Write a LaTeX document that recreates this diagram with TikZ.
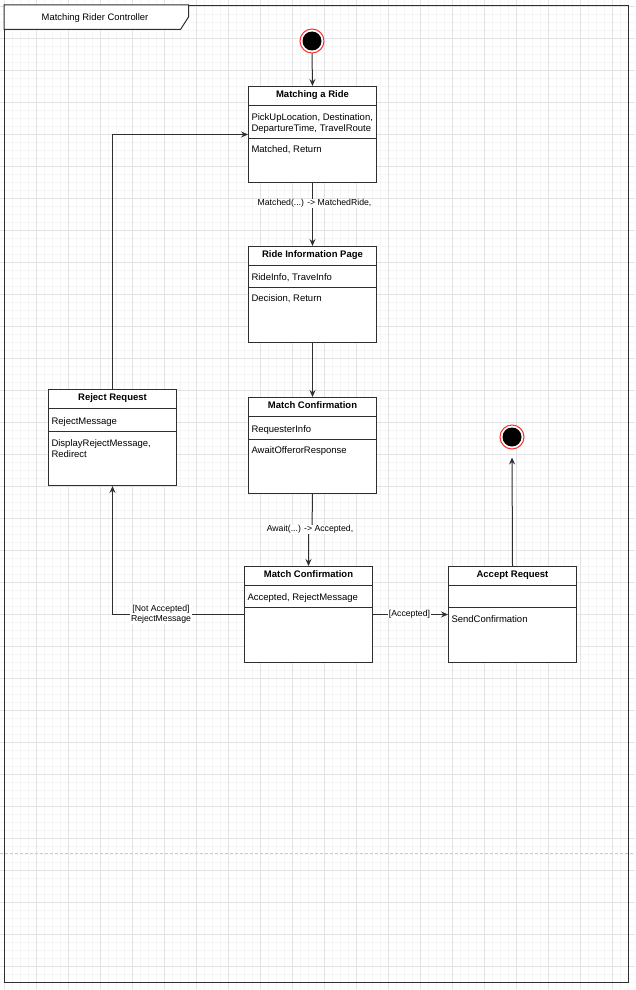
\documentclass[tikz,border=0pt]{standalone}
\usepackage{fontspec}
\setmainfont{Liberation Sans}
\usetikzlibrary{arrows.meta,calc}

\definecolor{gridmajor}{HTML}{E3E3E3}
\definecolor{gridminor}{HTML}{F5F5F5}
\definecolor{ink}{HTML}{2E2E2E}
\definecolor{ringred}{HTML}{FF3030}
\definecolor{dashgray}{HTML}{CCCCCC}

\tikzset{
  statebox/.style={draw=ink, line width=1, fill=white, minimum width=128,
    minimum height=96, inner sep=0, anchor=north west},
  sepline/.style={draw=ink, line width=0.8},
  titletext/.style={font=\fontsize{9.5}{11}\selectfont\bfseries, inner sep=0, anchor=base},
  bodytext/.style={font=\fontsize{9.5}{11}\selectfont, inner sep=0, anchor=base west},
  edgelabel/.style={font=\fontsize{8.7}{10.4}\selectfont, fill=white, inner sep=0.6, align=center},
  wire/.style={draw=ink, line width=1},
  flow/.style={wire, -{Stealth[length=7pt,width=6pt,inset=2.5pt]}},
  ring/.style={circle, draw=ringred, line width=1, fill=white, minimum size=24, inner sep=0},
  dot/.style={circle, fill=black, minimum size=19, inner sep=0},
}

% state box with title compartment, attribute compartment and operation compartment
% #1 name, #2 x, #3 y (top left), #4 title, #5 offset of the second separator
\newcommand\umlstate[5]{%
  \node[statebox] (#1) at (#2,#3) {};
  \draw[sepline] ($(#1.north west)+(0,19.5)$) -- ($(#1.north east)+(0,19.5)$);
  \draw[sepline] ($(#1.north west)+(0,#5)$) -- ($(#1.north east)+(0,#5)$);
  \node[titletext] (#1-title) at ($(#1.north)+(0,11.5)$) {#4};
}

\begin{document}
\begin{tikzpicture}[x=1pt,y=-1pt]
\useasboundingbox (0,0) rectangle (635,990);
\fill[white] (0,0) rectangle (635,990);

% background grid
\foreach \gx in {4.5,12.5,...,636}
  \draw[gridminor, line width=0.5] (\gx,0) -- (\gx,990);
\foreach \gy in {6,14,...,990}
  \draw[gridminor, line width=0.5] (0,\gy) -- (635,\gy);
\foreach \gx in {4.5,36.5,...,636}
  \draw[gridmajor, line width=0.7] (\gx,0) -- (\gx,990);
\foreach \gy in {6,38,...,990}
  \draw[gridmajor, line width=0.7] (0,\gy) -- (635,\gy);

% page break marker
\draw[dashgray, line width=1, dash pattern=on 3pt off 2pt] (0,853.5) -- (635,853.5);

% outer frame with name tab
\node[draw=ink, line width=1, minimum width=624, minimum height=977, inner sep=0,
      anchor=north west] (frame) at (4,5) {};
\draw[ink, line width=1, fill=white] (4,5) -- (188.5,5) -- (188.5,17) -- (180.5,29.5) -- (4,29.5) -- cycle;
\node[font=\fontsize{9.4}{11}\selectfont, inner sep=0, anchor=base] (frametitle) at (95,20.5) {Matching Rider Controller};

% initial state
\node[ring] (init) at (312,41) {};
\node[dot] (initdot) at (init) {};

% states
\umlstate{match}{248}{86}{Matching a Ride}{52}
\node[bodytext] (match-a1) at ($(match.north west)+(3.3,34.8)$) {PickUpLocation, Destination,};
\node[bodytext] (match-a2) at ($(match.north west)+(3.3,45.8)$) {DepartureTime, TravelRoute};
\node[bodytext] (match-o1) at ($(match.north west)+(3.3,66.5)$) {Matched, Return};

\umlstate{info}{248}{246}{Ride Information Page}{41.5}
\node[bodytext] (info-a1) at ($(info.north west)+(3.3,34.8)$) {RideInfo, TraveInfo};
\node[bodytext] (info-o1) at ($(info.north west)+(3.3,55.8)$) {Decision, Return};

\umlstate{confirm}{248}{397}{Match Confirmation}{42}
\node[bodytext] (confirm-a1) at ($(confirm.north west)+(3.3,35.3)$) {RequesterInfo};
\node[bodytext] (confirm-o1) at ($(confirm.north west)+(3.3,56.5)$) {AwaitOfferorResponse};

\umlstate{reject}{48}{389}{Reject Request}{42}
\node[bodytext] (reject-a1) at ($(reject.north west)+(3.3,35.3)$) {RejectMessage};
\node[bodytext] (reject-o1) at ($(reject.north west)+(3.3,57)$) {DisplayRejectMessage,};
\node[bodytext] (reject-o2) at ($(reject.north west)+(3.3,68)$) {Redirect};

\umlstate{decide}{244}{566}{Match Confirmation}{41}
\node[bodytext] (decide-a1) at ($(decide.north west)+(3.3,34.8)$) {Accepted, RejectMessage};

\umlstate{accept}{448}{566}{Accept Request}{41}
\node[bodytext] (accept-o1) at ($(accept.north west)+(3.3,56)$) {SendConfirmation};

% final state
\node[ring] (final) at (512,437) {};
\node[dot] (finaldot) at (final) {};

% transitions
\draw[flow] (init.south) -- (match.north);
\draw[flow] (match.south) -- (info.north);
\node[edgelabel, anchor=base] (lblmatched) at (314.5,205.5) {Matched(...) -> MatchedRide,};
\draw[flow] (info.south) -- (confirm.north);
\coordinate (jog) at (312,529);
\draw[flow] (confirm.south) -- (jog) -| (decide.north);
\node[edgelabel, anchor=base] (lblawait) at (310,531.5) {Await(...) -> Accepted,};
\draw[flow] (decide.west) -| (reject.south);
\node[edgelabel] (lblnot) at (161,614) {[Not Accepted]\\RejectMessage};
\draw[flow] (reject.north) |- (match.west);
\draw[flow] (decide.east) -- (accept.west);
\node[edgelabel, anchor=base] (lblacc) at (409.5,616) {[Accepted]};
\draw[flow, shorten >=8pt] (accept.north) -- (final.south);
\end{tikzpicture}
\end{document}
